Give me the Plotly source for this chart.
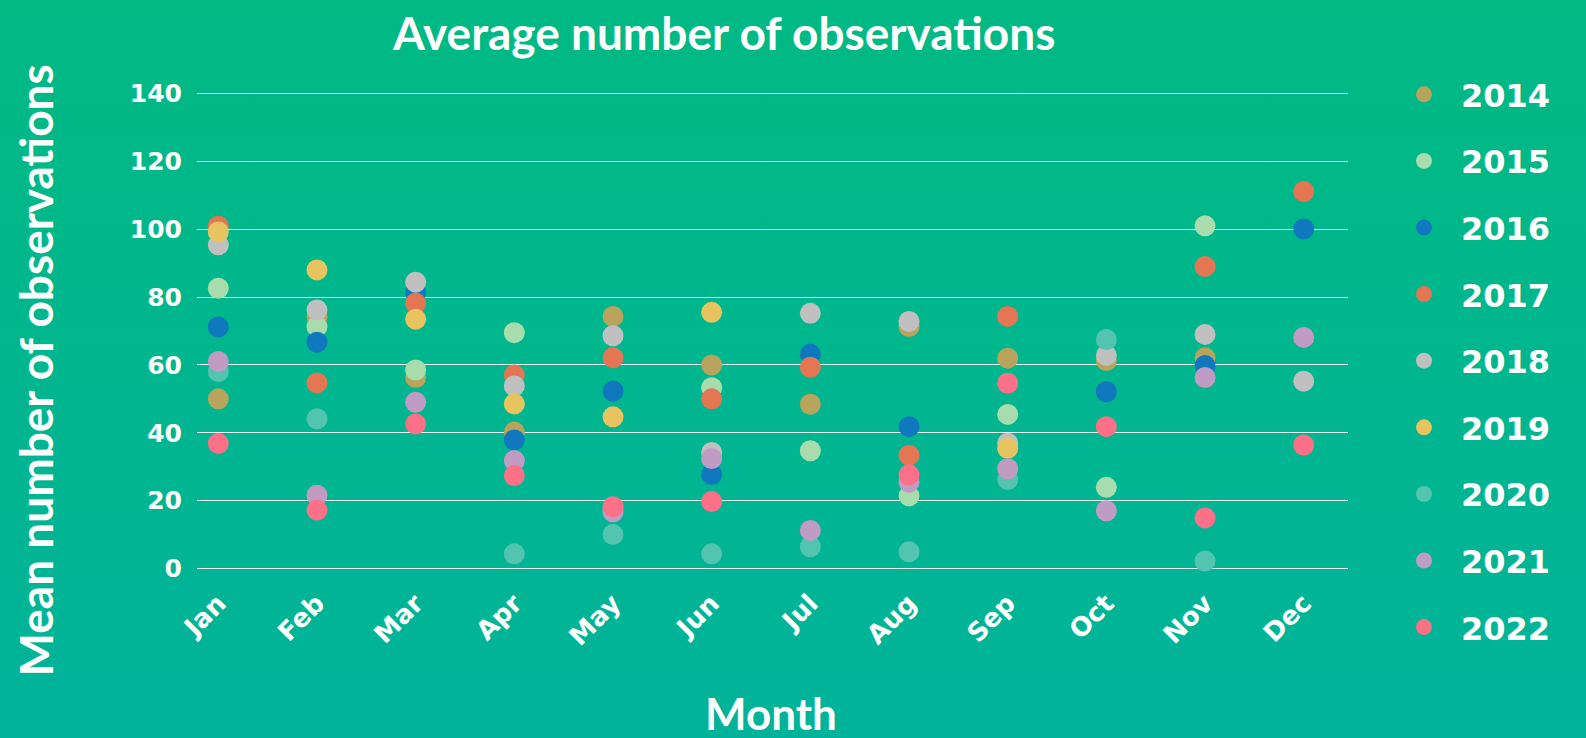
import base64
import plotly.graph_objects as go

months = ["Jan", "Feb", "Mar", "Apr", "May", "Jun", "Jul", "Aug", "Sep", "Oct", "Nov", "Dec"]
years = ["2014", "2015", "2016", "2017", "2018", "2019", "2020", "2021", "2022"]

y2014 = [50.0, 74.3, 56.3, 40.2, 74.3, 60.0, 48.4, 71.3, 62.0, 61.3, 62.1, None]
y2015 = [82.6, 71.3, 58.5, 69.5, None, 53.3, 34.7, 21.4, 45.4, 23.9, 101.0, None]
y2016 = [71.2, 66.7, 81.2, 37.9, 52.3, 27.7, 63.2, 41.8, None, 52.1, 59.8, 100.1]
y2017 = [100.9, 54.7, 78.2, 57.0, 62.1, 50.0, 59.3, 33.4, 74.3, None, 89.0, 111.1]
y2018 = [95.4, 76.2, 84.4, 53.8, 68.6, 34.2, 75.2, 72.8, 36.9, 62.8, 69.0, 55.2]
y2019 = [99.2, 88.0, 73.5, 48.5, 44.7, 75.5, None, None, 35.4, None, None, None]
y2020 = [58.0, 44.1, None, 4.3, 10.0, 4.3, 6.4, 4.9, 26.2, 67.5, 2.2, None]
y2021 = [61.0, 21.6, 49.0, 31.8, 16.7, 32.4, 11.2, 25.4, 29.4, 17.0, 56.3, 68.1]
y2022 = [36.8, 17.2, 42.6, 27.4, 18.2, 19.7, None, 27.6, 54.6, 41.8, 14.9, 36.4]

series = [y2014, y2015, y2016, y2017, y2018, y2019, y2020, y2021, y2022]
colors = ["#b8a45c", "#a8dcac", "#1078be", "#e57654", "#c0c0c0",
          "#e8c460", "#52c4b0", "#c09cc4", "#fc7088"]

W, H = 1586, 738
L, R, T, B = 197, 238, 80, 156
PW, PH = W - L - R, H - T - B


def px_x(px):
    return (px - L) / PW


def px_y(py):
    return (T + PH - py) / PH


fig = go.Figure()
for yr, vals, col in zip(years, series, colors):
    fig.add_trace(go.Scatter(
        x=months, y=vals, mode="markers", name=yr, legendgroup=yr,
        marker=dict(size=21, color=col, line=dict(width=0)),
    ))

svg = ('<svg xmlns="http://www.w3.org/2000/svg" width="100" height="100" preserveAspectRatio="none">'
       '<defs><linearGradient id="g" x1="0" y1="0" x2="0" y2="1">'
       '<stop offset="0" stop-color="#00b983"/><stop offset="1" stop-color="#00b39a"/>'
       '</linearGradient></defs><rect width="100" height="100" fill="url(#g)"/></svg>')
src = "data:image/svg+xml;base64," + base64.b64encode(svg.encode()).decode()

tickfont = dict(family="DejaVu Sans", size=25, color="white", weight="bold")
titlefont = dict(family="Lato", size=46, color="white", weight="bold")

fig.update_layout(
    width=W, height=H,
    margin=dict(l=L, r=R, t=T, b=B, pad=0),
    paper_bgcolor="#00b68f",
    plot_bgcolor="rgba(0,0,0,0)",
    showlegend=True,
    legend=dict(
        x=px_x(1387), xanchor="left",
        y=px_y(67), yanchor="top",
        font=dict(family="DejaVu Sans", size=32, color="white", weight="bold"),
        tracegroupgap=22, itemsizing="trace", itemwidth=64,
        bgcolor="rgba(0,0,0,0)", maxheight=730,
    ),
    xaxis=dict(
        type="category", categoryorder="array", categoryarray=months,
        range=[-0.216, 11.449], showgrid=False, zeroline=False, showline=False,
        tickangle=-45, tickfont=dict(family="DejaVu Sans", size=26, color="white", weight="bold"),
        ticks="",
    ),
    yaxis=dict(
        range=[-4, 144], dtick=20, tick0=0, showgrid=True,
        gridcolor="rgba(255,255,255,0.9)", gridwidth=1.2,
        zeroline=False, showline=False, ticks="", tickfont=tickfont,
        ticklabelstandoff=14,
    ),
    images=[dict(
        source=src, xref="paper", yref="paper",
        x=-L / PW, y=1 + T / PH, sizex=W / PW, sizey=H / PH,
        xanchor="left", yanchor="top", sizing="stretch", layer="below",
    )],
    annotations=[
        dict(text="Average number of observations", xref="paper", yref="paper",
             x=px_x(723), y=px_y(32), xanchor="center", yanchor="middle",
             showarrow=False, font=titlefont),
        dict(text="Mean number of observations", xref="paper", yref="paper",
             x=px_x(35.5), y=px_y(371), xanchor="center", yanchor="middle",
             textangle=-90, showarrow=False, font=titlefont),
        dict(text="Month", xref="paper", yref="paper",
             x=px_x(771), y=px_y(713), xanchor="center", yanchor="middle",
             showarrow=False, font=dict(family="Lato", size=44, color="white", weight="bold")),
    ],
)

fig.write_html(
    "out.html",
    config={"displayModeBar": False},
    post_script="document.body.style.margin='0';document.body.style.overflow='hidden';",
)
